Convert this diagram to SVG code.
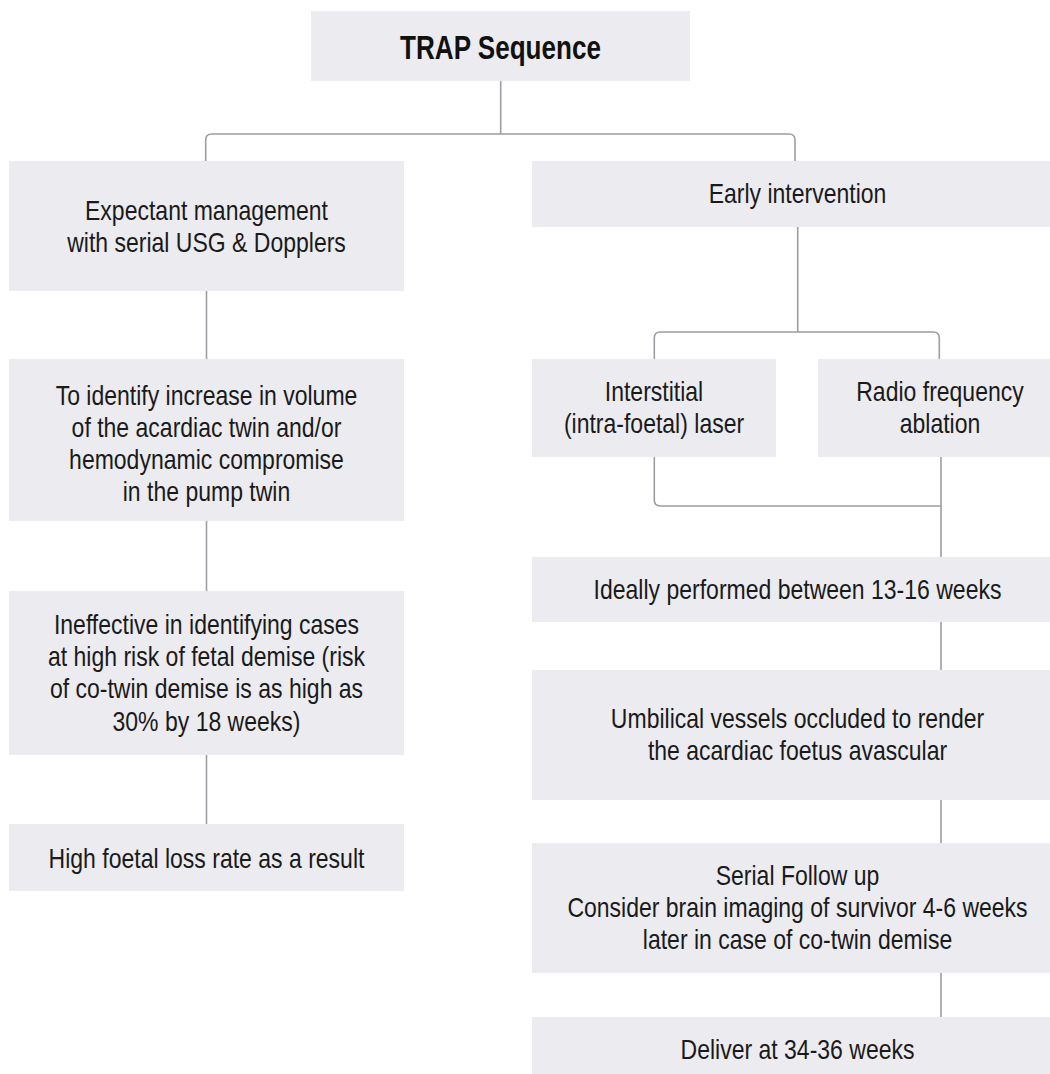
<svg xmlns="http://www.w3.org/2000/svg" width="1050" height="1074" viewBox="0 0 1050 1074">
<style>
.box{fill:#ebebf0;}
.t{font-family:"Liberation Sans",Arial,sans-serif;font-size:27px;fill:#1a1a1a;text-anchor:middle;}
.title{font-family:"Liberation Sans",Arial,sans-serif;font-size:33px;font-weight:bold;fill:#111;text-anchor:middle;}
.c{fill:none;stroke:#9d9da3;stroke-width:1.6;}
</style>
<rect width="1050" height="1074" fill="#ffffff"/>
<g id="connectors">
<path class="c" d="M500.7,81 V134"/>
<path class="c" d="M205.7,161 V140 Q205.7,134 211.7,134 H789 Q795,134 795,140 V161"/>
<path class="c" d="M206.5,291 V359"/>
<path class="c" d="M206.5,521 V591"/>
<path class="c" d="M206.5,755 V824"/>
<path class="c" d="M797.7,227 V332"/>
<path class="c" d="M654.3,359 V338 Q654.3,332 660.3,332 H933.3 Q939.3,332 939.3,338 V359"/>
<path class="c" d="M654.3,457 V500 Q654.3,506 660.3,506 H941"/>
<path class="c" d="M941,457 V557"/>
<path class="c" d="M941,622 V670"/>
<path class="c" d="M941,800 V843"/>
<path class="c" d="M941,973 V1017"/>
</g>
<g id="n-trap">
<rect class="box" x="311" y="11" width="379" height="70"/>
<text class="title" transform="translate(500.5,59) scale(0.79,1)">TRAP Sequence</text>
</g>
<g id="n-expectant">
<rect class="box" x="9" y="161" width="395" height="130"/>
<g transform="translate(206.5,0) scale(0.852,1)">
<text class="t" y="220">Expectant management</text>
<text class="t" y="252">with serial USG &amp; Dopplers</text>
</g>
</g>
<g id="n-identify">
<rect class="box" x="9" y="359" width="395" height="162"/>
<g transform="translate(206.5,0) scale(0.852,1)">
<text class="t" y="405">To identify increase in volume</text>
<text class="t" y="437">of the acardiac twin and/or</text>
<text class="t" y="469">hemodynamic compromise</text>
<text class="t" y="501">in the pump twin</text>
</g>
</g>
<g id="n-ineffective">
<rect class="box" x="9" y="591" width="395" height="164"/>
<g transform="translate(206.5,0) scale(0.852,1)">
<text class="t" y="634">Ineffective in identifying cases</text>
<text class="t" y="666">at high risk of fetal demise (risk</text>
<text class="t" y="698">of co-twin demise is as high as</text>
<text class="t" y="731">30% by 18 weeks)</text>
</g>
</g>
<g id="n-loss">
<rect class="box" x="9" y="824" width="395" height="67"/>
<g transform="translate(206.5,0) scale(0.852,1)">
<text class="t" y="868">High foetal loss rate as a result</text>
</g>
</g>
<g id="n-early">
<rect class="box" x="532" y="161" width="531" height="66"/>
<g transform="translate(797.5,0) scale(0.852,1)">
<text class="t" y="203">Early intervention</text>
</g>
</g>
<g id="n-laser">
<rect class="box" x="532" y="359" width="244" height="98"/>
<g transform="translate(654,0) scale(0.852,1)">
<text class="t" y="401">Interstitial</text>
<text class="t" y="433">(intra-foetal) laser</text>
</g>
</g>
<g id="n-rfa">
<rect class="box" x="818" y="359" width="245" height="98"/>
<g transform="translate(940,0) scale(0.852,1)">
<text class="t" y="401">Radio frequency</text>
<text class="t" y="433">ablation</text>
</g>
</g>
<g id="n-ideally">
<rect class="box" x="532" y="557" width="531" height="65"/>
<g transform="translate(797.5,0) scale(0.852,1)">
<text class="t" y="599">Ideally performed between 13-16 weeks</text>
</g>
</g>
<g id="n-umbilical">
<rect class="box" x="532" y="670" width="531" height="130"/>
<g transform="translate(797.5,0) scale(0.852,1)">
<text class="t" y="728">Umbilical vessels occluded to render</text>
<text class="t" y="760">the acardiac foetus avascular</text>
</g>
</g>
<g id="n-followup">
<rect class="box" x="532" y="843" width="531" height="130"/>
<g transform="translate(797.5,0) scale(0.852,1)">
<text class="t" y="885">Serial Follow up</text>
<text class="t" y="917">Consider brain imaging of survivor 4-6 weeks</text>
<text class="t" y="949">later in case of co-twin demise</text>
</g>
</g>
<g id="n-deliver">
<rect class="box" x="532" y="1017" width="531" height="66"/>
<g transform="translate(797.5,0) scale(0.852,1)">
<text class="t" y="1059">Deliver at 34-36 weeks</text>
</g>
</g>
</svg>
